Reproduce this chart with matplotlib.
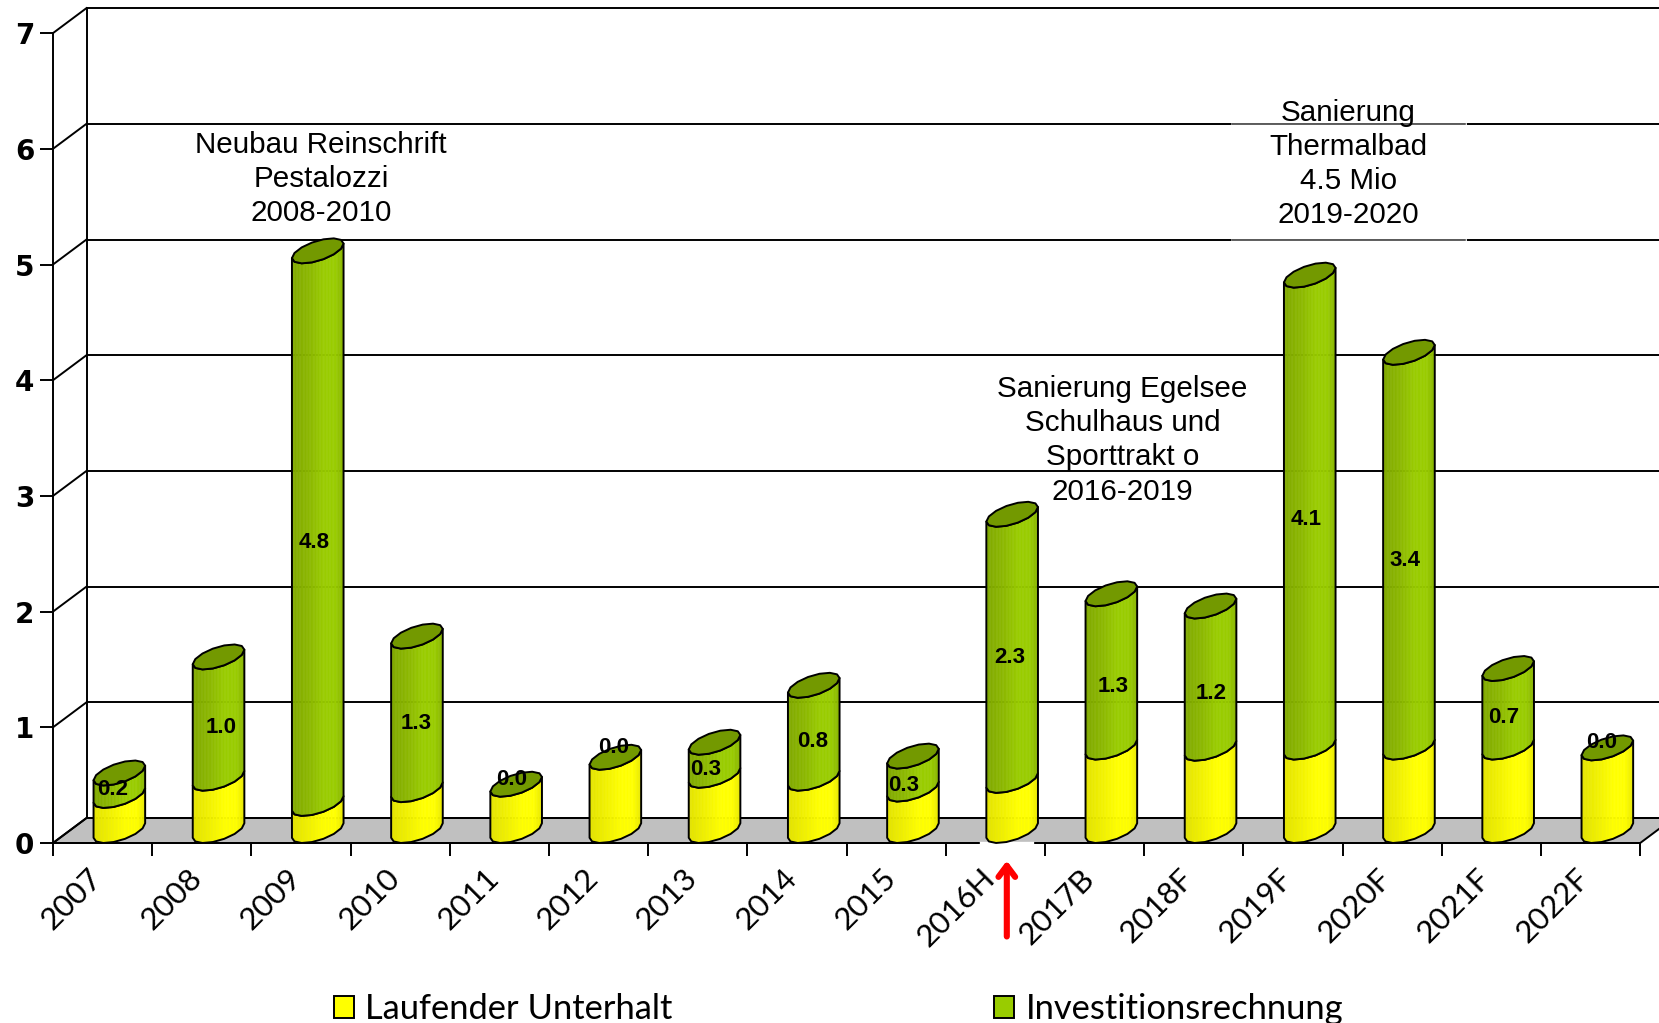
import numpy as np
import matplotlib
matplotlib.use("Agg")
import matplotlib.pyplot as plt
from matplotlib.patches import Polygon, Patch
from matplotlib.collections import PolyCollection
from matplotlib.colors import to_rgb

categories = ["2007", "2008", "2009", "2010", "2011", "2012", "2013", "2014",
              "2015", "2016H", "2017B", "2018F", "2019F", "2020F", "2021F", "2022F"]
unterhalt = [0.303, 0.452, 0.234, 0.353, 0.40, 0.633, 0.477, 0.452,
             0.358, 0.433, 0.721, 0.711, 0.721, 0.721, 0.721, 0.714]
investition = [0.194, 1.048, 4.776, 1.327, 0.0, 0.0, 0.286, 0.803,
               0.285, 2.30, 1.325, 1.229, 4.079, 3.412, 0.679, 0.0]
value_labels = ["0.2", "1.0", "4.8", "1.3", "0.0", "0.0", "0.3", "0.8",
                "0.3", "2.3", "1.3", "1.2", "4.1", "3.4", "0.7", "0.0"]
y_ticks = [0, 1, 2, 3, 4, 5, 6, 7]
series_names = ["Laufender Unterhalt", "Investitionsrechnung"]
notes = [("Neubau Reinschrift\nPestalozzi\n2008-2010", 2.70, 5.74),
         ("Sanierung Egelsee\nSchulhaus und\nSporttrakt o\n2016-2019", 10.78, 3.48),
         ("Sanierung\nThermalbad\n4.5 Mio\n2019-2020", 13.06, 5.87)]
# hand placement of the value labels, in pixels
label_nudge_x = [-6, 2, -3, -1, -4, -2, -8, -1, -9, -2, 2, 1, -3, -4, -4, -5]
label_nudge_y = [-1, 3, 8, 4, 2, -2, 4, 3, 6, 3, 9, 9, 2, 4, 3, 2]

W, H = 1659, 1023
PX_X, PX_Y = 99.2, 115.7          # pixels per category / per unit
X0, Y0 = 53, 843                  # pixel position of the origin
fig = plt.figure(figsize=(W / 100, H / 100), dpi=100, facecolor="white")
ax = fig.add_axes([X0 / W, (H - Y0) / H, 16 * PX_X / W, 7 * PX_Y / H])
ax.set_xlim(0, 16)
ax.set_ylim(0, 7)
ax.patch.set_visible(False)

LW = 1.4
DX, DY = 33.5 / PX_X, 25 / PX_Y   # depth of the 3-D box
UX = 21 / PX_X
VX, VY = 15 / PX_X, 12.5 / PX_Y

# walls and floor
ax.add_patch(Polygon([(0, 0), (16, 0), (16 + DX, DY), (DX, DY)], closed=True, fc="#C0C0C0",
                     ec="black", lw=LW, clip_on=False, zorder=1))
for k in y_ticks:
    ax.plot([0, DX], [k, k + DY], color="black", lw=LW, clip_on=False, zorder=1.1)
    ax.plot([DX, 16 + DX], [k + DY, k + DY], color="black", lw=LW, clip_on=False, zorder=1.1)
ax.plot([DX, DX], [DY, 7 + DY], color="black", lw=LW, clip_on=False, zorder=1.1)
ax.plot([9.35, 9.87], [0, 0], color="white", lw=2.4, clip_on=False, zorder=2.8)
# edges of the white text box of the right-hand note
for k in [5, 6]:
    ax.plot([11.885, 14.23], [k + DY, k + DY], color="white", lw=LW + 0.6, zorder=1.2, clip_on=False)
    ax.plot([11.885, 14.23], [k + DY, k + DY], color="#333333", lw=1.1, zorder=1.3, clip_on=False)

for s in ["top", "right"]:
    ax.spines[s].set_visible(False)
for s in ["left", "bottom"]:
    ax.spines[s].set_linewidth(LW)

ax.set_yticks(y_ticks)
ax.set_yticklabels([str(v) for v in y_ticks], fontsize=20, fontweight="bold",
                   fontfamily="DejaVu Sans")
ax.tick_params(axis="y", length=9.5, width=LW, pad=4)
ax.set_xticks(np.arange(0, 17))
ax.set_xticklabels([])
ax.tick_params(axis="x", which="major", length=9, width=LW)
ax.set_xticks(np.arange(16) + 0.35, minor=True)
ax.set_xticklabels(categories, minor=True, rotation=45, ha="right", va="top",
                   rotation_mode="anchor", fontsize=22.5, fontfamily="Lato")
ax.tick_params(axis="x", which="minor", length=0, pad=15)

YEL = [(0.0, "#E3E300"), (0.35, "#F2F200"), (0.62, "#FFFF00"), (0.85, "#FFFF00"), (1.0, "#E8E800")]
GRN = [(0.0, "#7FA800"), (0.35, "#8CB800"), (0.62, "#99CC00"), (0.85, "#99CC00"), (1.0, "#88B400")]
CAP = "#739900"

t0 = np.arctan2(VX * PX_X, UX * PX_X)
ts = t0 + np.pi + np.linspace(0, np.pi, 8)
front_x = UX * np.cos(ts) + VX * np.sin(ts)
front_y = VY * np.sin(ts)
back_x = -front_x
back_y = -front_y


def ramp(stops, f):
    pos = [p for p, _ in stops]
    rgb = np.array([to_rgb(c) for _, c in stops])
    return np.array([np.interp(f, pos, rgb[:, i]) for i in range(3)]).T


def body(cx, cy, low, high, stops, z):
    xs = np.linspace(front_x[0], front_x[-1], 37)
    ys = np.interp(xs, front_x, front_y)
    quads = [[(cx + xs[i], cy + low + ys[i]), (cx + xs[i + 1], cy + low + ys[i + 1]),
              (cx + xs[i + 1], cy + high + ys[i + 1]), (cx + xs[i], cy + high + ys[i])]
             for i in range(len(xs) - 1)]
    cols = ramp(stops, (np.arange(len(xs) - 1) + 0.5) / (len(xs) - 1))
    ax.add_collection(PolyCollection(quads, facecolors=cols, edgecolors=cols, linewidths=0.4,
                                     clip_on=False, zorder=z), autolim=False)
    outline = list(zip(cx + front_x, cy + low + front_y)) + \
        list(zip(cx + front_x[::-1], cy + high + front_y[::-1]))
    ax.add_patch(Polygon(outline, closed=True, fc="none", ec="black", lw=LW, clip_on=False,
                         joinstyle="round", zorder=z + 0.01))


for i, (a, b) in enumerate(zip(unterhalt, investition)):
    cx = i + 0.5 + DX / 2
    cy = DY / 2
    z = 3 + i * 0.1
    body(cx, cy, 0, a, YEL, z)
    if b > 0:
        body(cx, cy, a, a + b, GRN, z + 0.02)
    cap = list(zip(cx + front_x, cy + a + b + front_y)) + \
        list(zip(cx + back_x[1:-1], cy + a + b + back_y[1:-1]))
    ax.add_patch(Polygon(cap, closed=True, fc=CAP, ec="black", lw=LW, clip_on=False,
                         joinstyle="round", zorder=z + 0.04))
    off = 0.05 if b > 0 else 0.17
    ax.text(cx + label_nudge_x[i] * 1.058 / PX_X,
            a + b / 2 + off - label_nudge_y[i] * 1.058 / PX_Y,
            value_labels[i], ha="center", va="center", fontsize=16,
            fontweight="bold", fontfamily="Liberation Sans", color="black", zorder=6, clip_on=False)

for txt, x, y in notes:
    ax.text(x, y, txt, ha="center", va="center", fontsize=21.3, fontfamily="Liberation Sans",
            linespacing=1.28, color="black", zorder=7, clip_on=False)

ax.annotate("", xy=(9.615, -0.153), xytext=(9.615, -0.808), annotation_clip=False,
            arrowprops=dict(arrowstyle="->,head_length=0.8,head_width=0.6", color="#FF0000",
                            lw=4.4, shrinkA=0, shrinkB=0), zorder=7)

handles = [Patch(fc="#FFFF00", ec="black", lw=LW), Patch(fc="#99CC00", ec="black", lw=LW)]
fig.legend(handles, series_names, ncols=2, frameon=False, prop={"family": "Lato", "size": 24.8},
           handlelength=0.58, handleheight=0.58, handletextpad=0.32, columnspacing=9.35,
           borderpad=0, borderaxespad=0, loc="lower left", bbox_to_anchor=(334 / W, -2 / H))

fig.savefig("out.png", dpi=100)
